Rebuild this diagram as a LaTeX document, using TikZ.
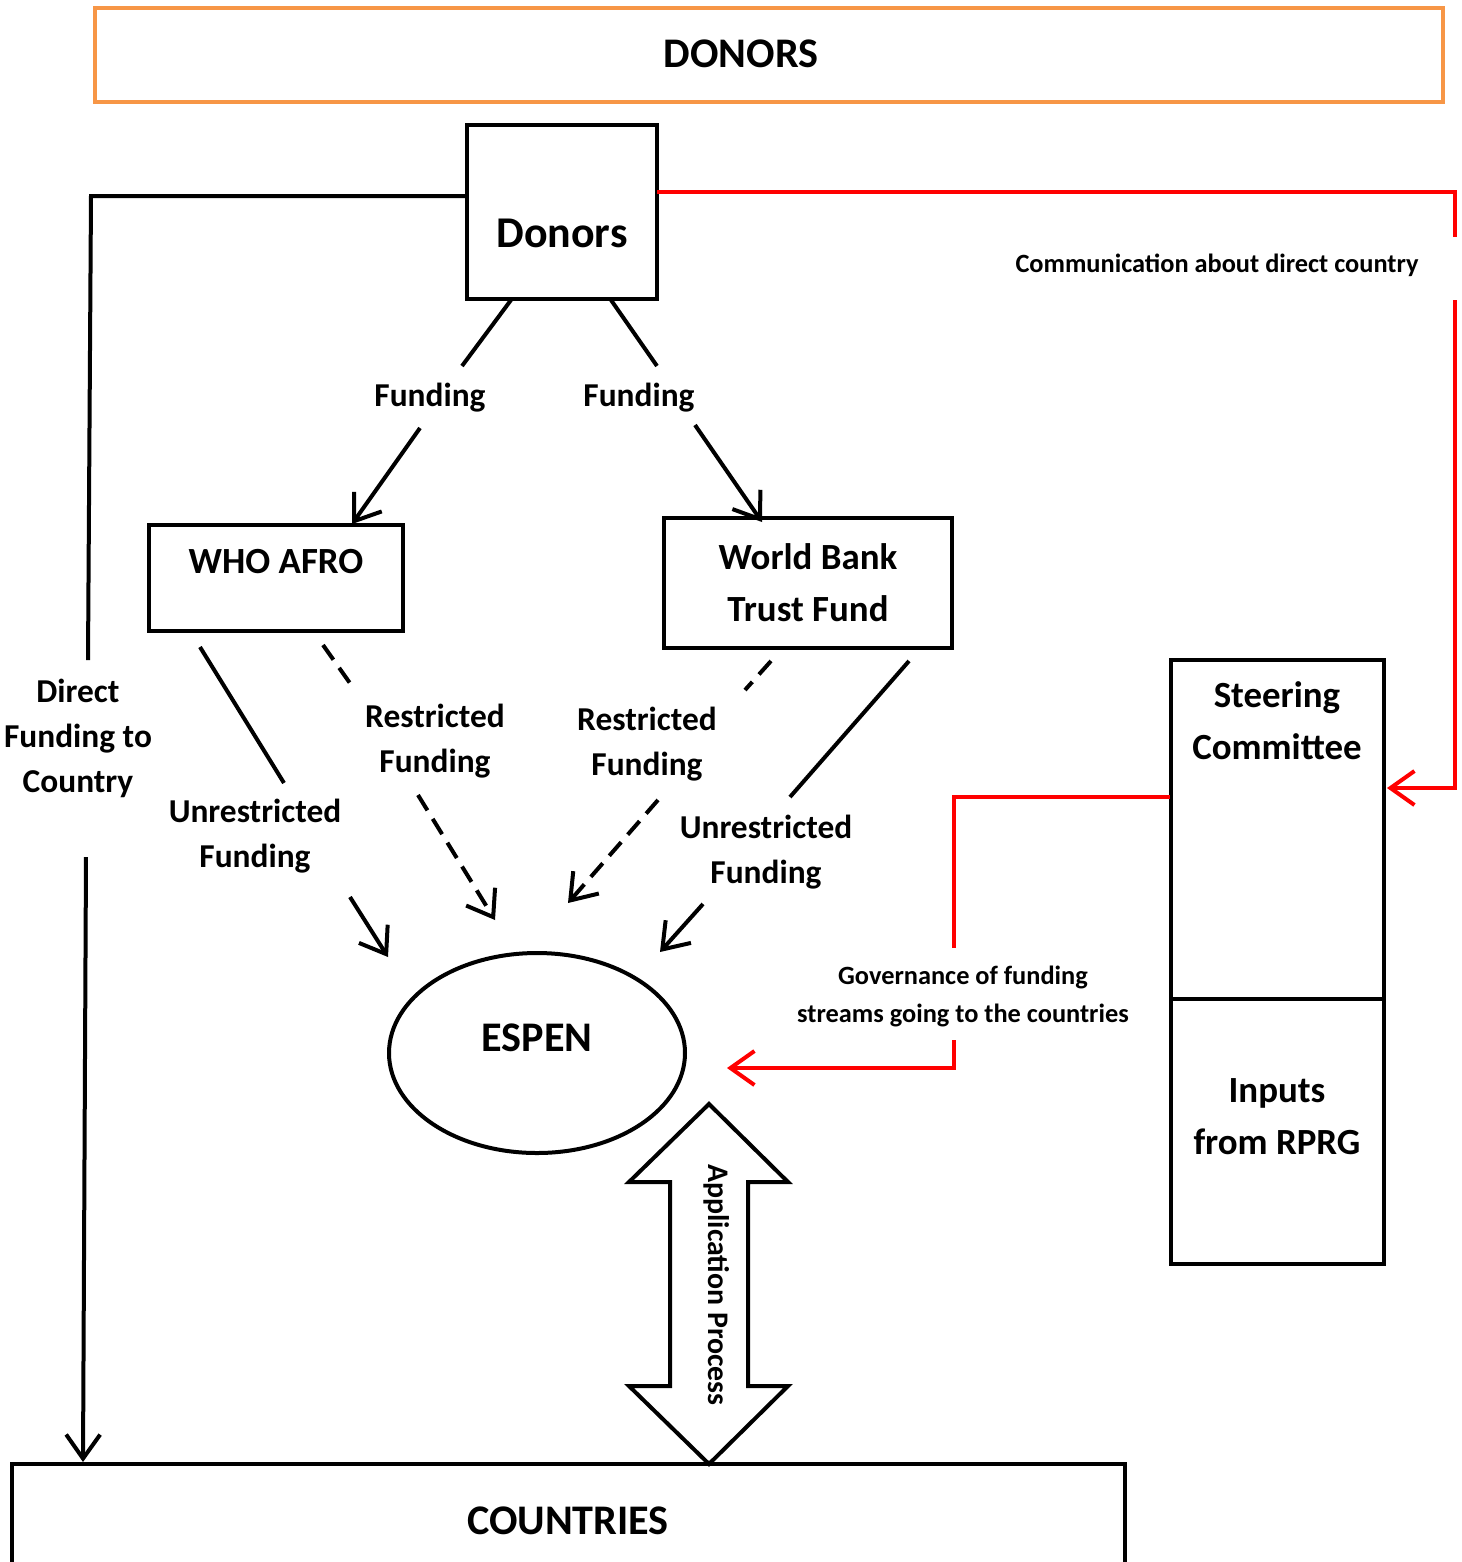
\documentclass[tikz,border=0pt]{standalone}
\usepackage{fontspec}
\setmainfont{Carlito}
\usetikzlibrary{arrows.meta,shapes.geometric}
\definecolor{donorOrange}{RGB}{247,150,70}

\tikzset{
  box/.style={draw, line width=0.4mm, inner sep=0pt},
  big/.style={font=\fontsize{12}{14}\selectfont\bfseries},
  mid/.style={font=\fontsize{10.5}{14.8}\selectfont\bfseries, align=center},
  lbl/.style={font=\fontsize{9.5}{12.8}\selectfont\bfseries, align=center},
  small/.style={font=\fontsize{7.5}{10.8}\selectfont\bfseries, align=center},
  arr/.style={-{Straight Barb[length=2.4mm,width=3.4mm]}},
  dsh/.style={dash pattern=on 1.8mm off 1mm}
}

\begin{document}
\begin{tikzpicture}[x=0.1mm, y=-0.1mm, line width=0.4mm]
\useasboundingbox (0,0) rectangle (1462,1562);

% boxes
\node[box, draw=donorOrange, minimum width=134.8mm, minimum height=9.4mm] (donorsTop) at (769,55) {};
\node[big] (donorsTopTxt) at (741,54) {DONORS};
\node[box, minimum width=19mm, minimum height=17.4mm] (donors) at (562,212) {};
\node[font=\fontsize{12.5}{15}\selectfont\bfseries] (donorsTxt) at (562,233) {Donors};
\node[box, minimum width=25.4mm, minimum height=10.6mm] (who) at (276,578) {};
\node[mid] (whoTxt) at (276,562) {WHO AFRO};
\node[box, mid, minimum width=28.8mm, minimum height=13mm] (wb) at (808,583) {World Bank\\Trust Fund};
\node[draw, ellipse, minimum width=29.6mm, minimum height=20mm] (espen) at (537,1053) {};
\node[big] (espenTxt) at (537,1038) {ESPEN};
\node[box, minimum width=21.3mm, minimum height=33.9mm] (steer) at (1277.5,829.5) {};
\node[box, minimum width=21.3mm, minimum height=26.5mm] (inputs) at (1277.5,1131.5) {};
\node[mid] (steerTxt) at (1277,721) {Steering\\Committee};
\node[mid] (inputsTxt) at (1277,1117) {Inputs\\from RPRG};
\node[box, minimum width=111.3mm, minimum height=20mm] (countries) at (568.5,1564) {};
\node[big] (countriesTxt) at (568,1521) {COUNTRIES};

% application process
\draw[fill=white] (709,1104) -- (788,1182) -- (748,1182) -- (748,1386) -- (788,1386)
  -- (709,1464) -- (629,1386) -- (670,1386) -- (670,1182) -- (629,1182) -- cycle;
\node[rotate=-90, font=\fontsize{8.5}{10}\selectfont\bfseries] (appTxt) at (717,1285) {Application Process};

% labels
\node[lbl] (fundL) at (430,398) {Funding};
\node[lbl] (fundR) at (639,398) {Funding};
\node[lbl] (directTxt) at (78,738) {Direct\\Funding to\\Country};
\node[lbl] (unresL) at (255,836) {Unrestricted\\Funding};
\node[lbl] (resL) at (435,741) {Restricted\\Funding};
\node[lbl] (resR) at (647,744) {Restricted\\Funding};
\node[lbl] (unresR) at (766,852) {Unrestricted\\Funding};
\node[small] (commTxt) at (1217,265) {Communication about direct country};
\node[small] (govTxt) at (963,996) {Governance of funding\\streams going to the countries};

% direct funding
\draw (466,196) -- (91,196) -- (88,660);
\draw[arr] (86,857) -- (83,1462);

% communication
\draw[red] (657,192) -- (1455,192) -- (1455,237);
\draw[red, arr] (1455,300) -- (1455,788) -- (1387,788);

% funding to WHO AFRO and World Bank
\draw (511,300) -- (462,366);
\draw[arr] (420,428) -- (352,524);
\draw (611,300) -- (657,366);
\draw[arr] (695,425) -- (762,522);

% WHO AFRO to ESPEN
\draw (200,647) -- (284,783);
\draw[arr] (350,897) -- (388,957);
\draw[dsh] (323,645) -- (352,686);
\draw[dsh, arr] (418,795) -- (495,920);

% World Bank to ESPEN
\draw[dsh] (771,661) -- (745,690);
\draw[dsh, arr] (658,800) -- (568,903);
\draw (909,661) -- (790,797);
\draw[arr] (703,904) -- (660,952);

% governance
\draw[red] (1170,797) -- (954,797) -- (954,948);
\draw[red, arr] (954,1040) -- (954,1068) -- (727,1068);

\end{tikzpicture}
\end{document}
